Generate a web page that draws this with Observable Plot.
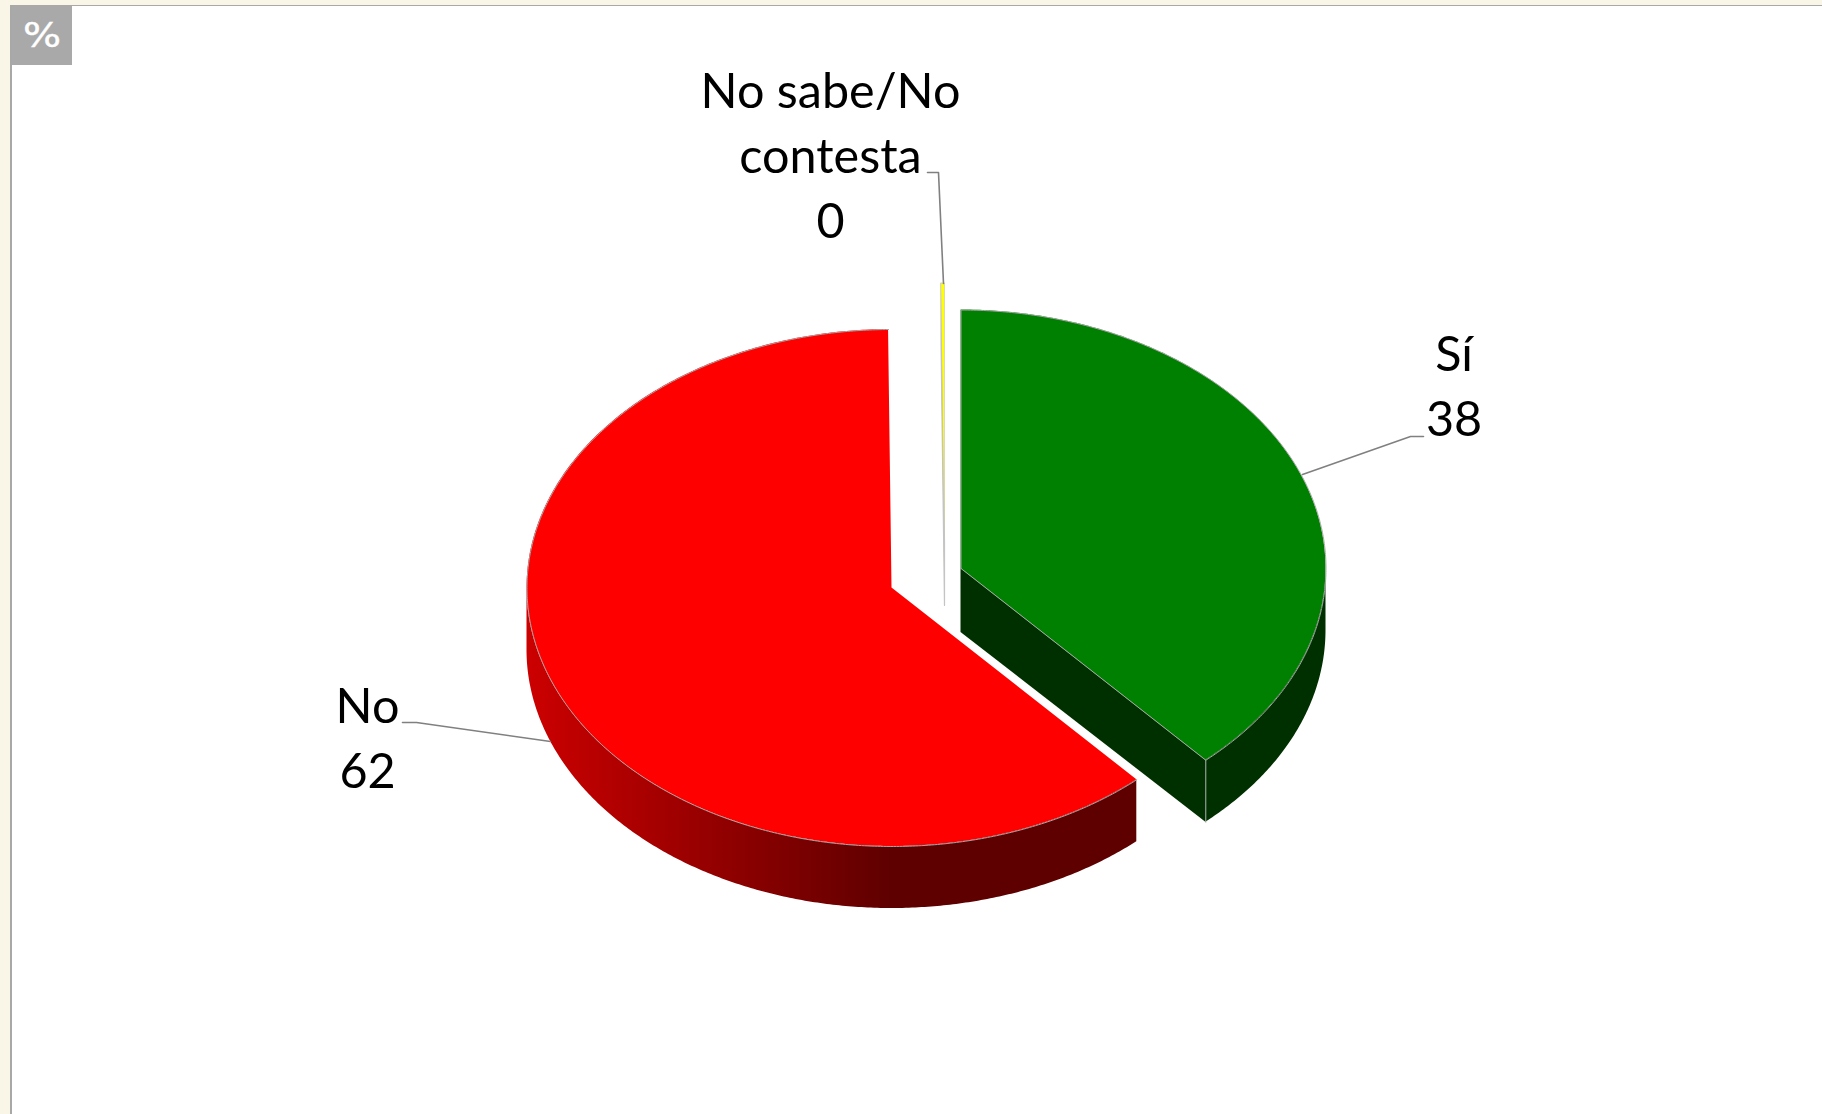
<!DOCTYPE html>
<html>
<head>
<meta charset="utf-8">
<script src="https://cdn.jsdelivr.net/npm/d3@7"></script>
<script src="https://cdn.jsdelivr.net/npm/@observablehq/plot@0.6"></script>
<style>
html,body{margin:0;padding:0;width:1822px;height:1114px;overflow:hidden;background:#f9f6e8;}
#panel{position:absolute;left:10px;top:5px;width:1812px;height:1109px;background:#fff;border-left:2px solid #a8a8a8;border-top:1px solid #a8a8a8;box-sizing:border-box;}
#badge{position:absolute;left:12px;top:6px;width:60px;height:59px;background:#a9a9a9;color:#fff;font:34px "DejaVu Sans",sans-serif;text-align:center;line-height:59px;}
#badge span{display:inline-block;transform:scaleX(1.18);-webkit-text-stroke:0.4px #fff;}
#chart{position:absolute;left:0;top:0;}
#chart svg{background:transparent;display:block;}
</style>
</head>
<body>
<div id="panel"></div>
<div id="chart"></div>
<div id="badge"><span>%</span></div>
<script>
// Data
const categories = ["Sí", "No", "No sabe/No contesta"];
const wrappedNames = ["Sí", "No", "No sabe/No\ncontesta"];
const values = [38.3, 61.55, 0.15];
const colors = ["#008000", "#ff0000", "#ffff00"];

// Layout of the exploded 3-D pie
const rx = 365, ry = 258.5, depth = 62;
const centers = [[960.5, 568], [891.5, 587.5], [944.5, 541.5]];
const labelAt = [[1453.5, 382.5], [367, 734], [830, 151.5]];
const leaders = [
  [[1423, 436], [1410, 436], [1302, 474]],
  [[402, 722], [416, 722], [550, 741]],
  [[927, 172], [938, 172], [943, 283]]
];

// Angles (degrees clockwise from the top), derived from the values
const total = d3.sum(values);
let acc = 0;
const slices = categories.map((name, i) => {
  const a0 = acc; acc += values[i] / total * 360;
  return {name, i, a0, a1: acc, c: centers[i], color: colors[i]};
});
const rim = (s, a, drop = 0) => {
  const t = a * Math.PI / 180;
  return [s.c[0] + rx * Math.sin(t), s.c[1] - ry * Math.cos(t) + drop];
};
const arc = (a0, a1) => {
  const n = Math.max(2, Math.ceil(Math.abs(a1 - a0) * 2));
  return d3.range(n + 1).map(k => a0 + (a1 - a0) * k / n);
};
// Sector top: ribbon from the apex to the rim
const sector = s => arc(s.a0, s.a1).map(a => {
  const p = rim(s, a);
  return {x1: s.c[0], y1: s.c[1], x2: p[0], y2: p[1]};
});
// Outer wall: ribbon between the top rim and the bottom rim
const wall = (s, a0, a1) => arc(a0, a1).map(a => {
  const p = rim(s, a), q = rim(s, a, depth);
  return {x1: p[0], y1: p[1], x2: q[0], y2: q[1]};
});
// Radial cut face: ribbon from the vertical at the apex to the vertical at the rim
const cut = (s, a) => {
  const p = rim(s, a);
  return [
    {x1: s.c[0], y1: s.c[1], x2: s.c[0], y2: s.c[1] + depth + 2},
    {x1: p[0], y1: p[1], x2: p[0], y2: p[1] + depth}
  ];
};
const ribbon = {x1: "x1", y1: "y1", x2: "x2", y2: "y2"};
const [si, no, ns] = slices;
const edge = "#a6a6a6";

const labelRows = slices.map((s, i) => ({
  text: wrappedNames[i] + "\n" + Math.round(values[i]),
  x: labelAt[i][0], y: labelAt[i][1]
}));
const leaderRows = leaders.flatMap((pts, i) => pts.map(p => ({z: i, x: p[0], y: p[1]})));

const chart = Plot.plot({
  width: 1822, height: 1114, margin: 0,
  x: {type: "linear", domain: [0, 1822], range: [0, 1822], axis: null},
  y: {type: "linear", domain: [0, 1114], range: [0, 1114], axis: null},
  marks: [
    // No
    Plot.area(wall(no, no.a0, 270), {...ribbon, fill: "url(#redWall)"}),
    Plot.area(sector(no), {...ribbon, fill: no.color}),
    Plot.line(arc(no.a0, no.a1).map(a => rim(no, a)), {x: "0", y: "1", stroke: edge, strokeWidth: 1}),
    // Sí
    Plot.area(cut(si, si.a1), {...ribbon, fill: "#003000"}),
    Plot.area(wall(si, 90, si.a1), {...ribbon, fill: "#003000"}),
    Plot.area(sector(si), {...ribbon, fill: si.color}),
    Plot.line([si.c, ...arc(si.a0, si.a1).map(a => rim(si, a)), si.c], {x: "0", y: "1", stroke: edge, strokeWidth: 1}),
    Plot.line([rim(si, si.a1), rim(si, si.a1, depth)], {x: "0", y: "1", stroke: edge, strokeWidth: 1}),
    // No sabe/No contesta
    Plot.area(cut(ns, ns.a0), {...ribbon, fill: "#cccc00", stroke: "#c4c4c4", strokeWidth: 1.2}),
    Plot.area(sector(ns), {...ribbon, fill: ns.color, stroke: "#c4c4c4", strokeWidth: 0.6}),
    // Leaders and labels
    Plot.line(leaderRows, {x: "x", y: "y", z: "z", stroke: "#808080", strokeWidth: 1.6}),
    Plot.text(labelRows, {
      x: "x", y: "y", text: "text", fill: "#000",
      fontFamily: "Lato", fontSize: 48.5, lineHeight: 65 / 48.5, textAnchor: "middle"
    })
  ]
});

// Horizontal shading of the red wall
const defs = d3.select(chart).insert("defs", ":first-child");
const g = defs.append("linearGradient").attr("id", "redWall")
  .attr("gradientUnits", "userSpaceOnUse")
  .attr("x1", 527).attr("x2", 890).attr("y1", 0).attr("y2", 0);
g.append("stop").attr("offset", 0).attr("stop-color", "#cc0000");
g.append("stop").attr("offset", 1).attr("stop-color", "#5f0000");

document.getElementById("chart").appendChild(chart);
</script>
</body>
</html>
